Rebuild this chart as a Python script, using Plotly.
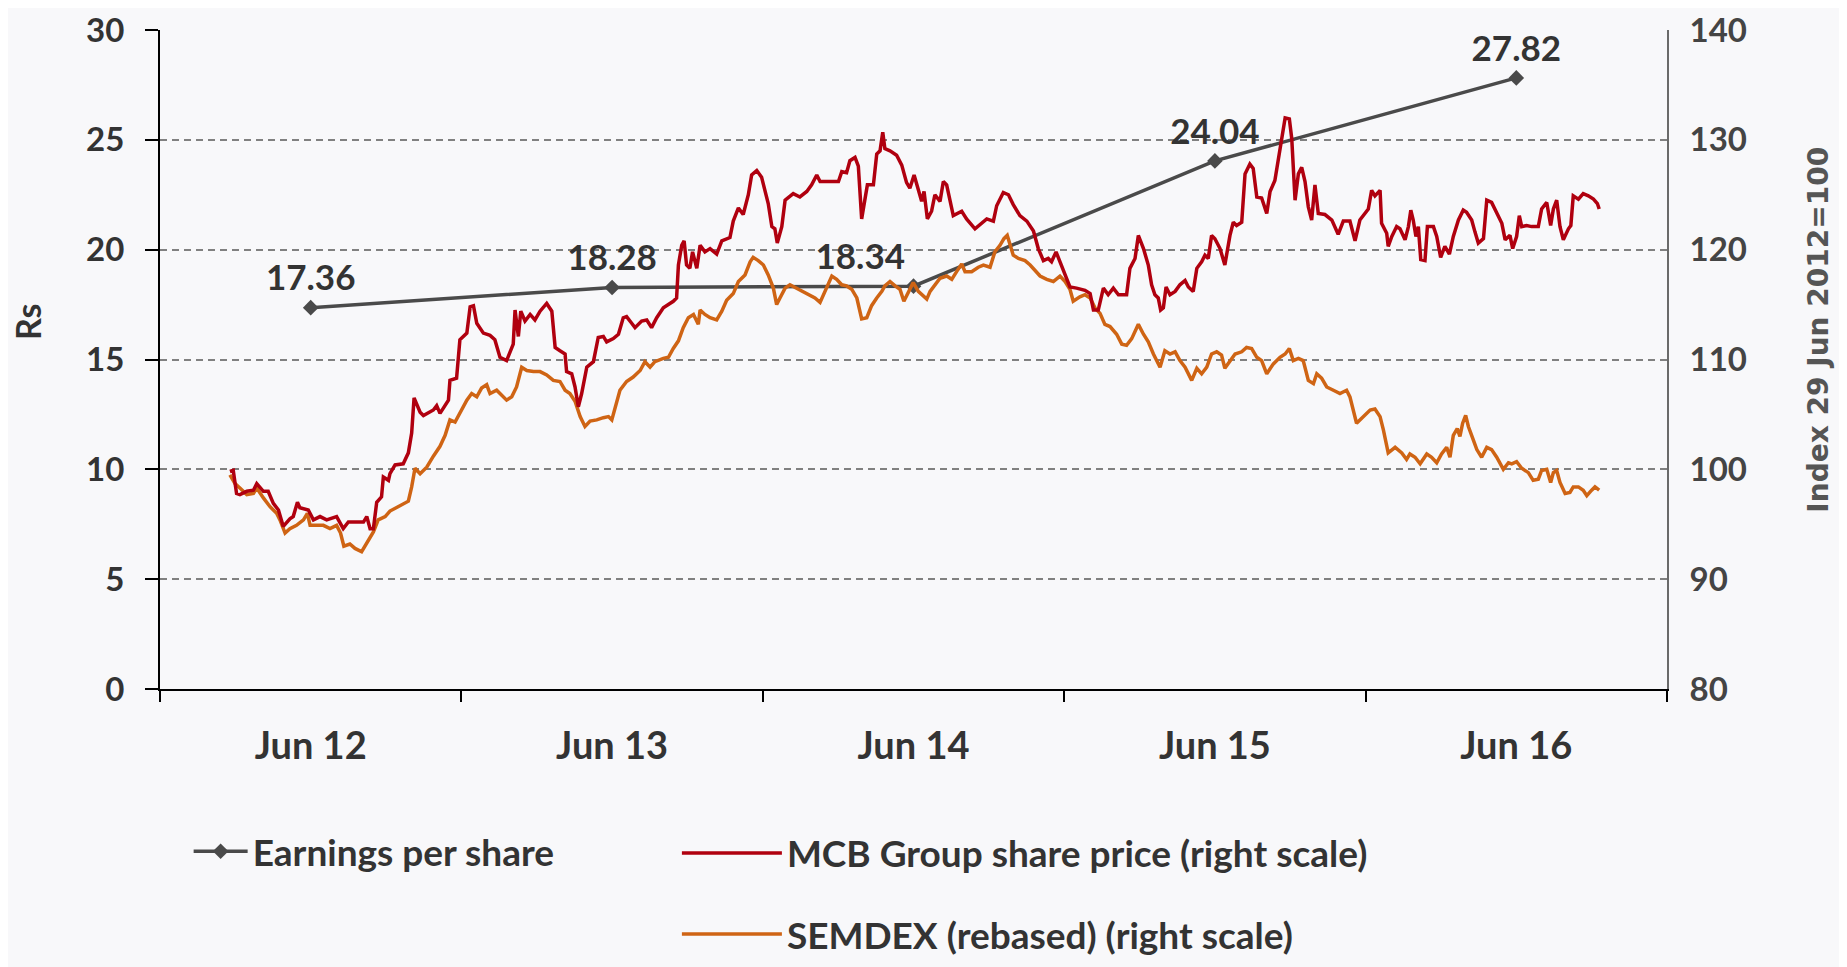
import plotly.graph_objects as go

# ---------------- data ----------------
categories = ["Jun 12", "Jun 13", "Jun 14", "Jun 15", "Jun 16"]
eps = [17.36, 18.28, 18.34, 24.04, 27.82]
eps_x = [i + 0.5 for i in range(len(categories))]  # centre of each year slot

# time position on the chart's year axis (0..5) and index level (29 Jun 2012 = 100)
mcb_t = [0.232, 0.243, 0.254, 0.265, 0.288, 0.310, 0.321, 0.343, 0.359, 0.376, 0.393, 0.409, 0.431, 0.442,
         0.456, 0.464, 0.492, 0.509, 0.531, 0.553, 0.586, 0.608, 0.625, 0.675, 0.686, 0.697, 0.708, 0.719,
         0.735, 0.741, 0.758, 0.763, 0.780, 0.807, 0.824, 0.835, 0.843, 0.863, 0.874, 0.907, 0.918, 0.929,
         0.957, 0.962, 0.984, 0.995, 1.018, 1.029, 1.040, 1.051, 1.073, 1.095, 1.111, 1.128, 1.150, 1.172,
         1.178, 1.189, 1.197, 1.211, 1.228, 1.244, 1.261, 1.283, 1.300, 1.311, 1.327, 1.344, 1.349, 1.366,
         1.377, 1.388, 1.399, 1.416, 1.438, 1.454, 1.471, 1.482, 1.504, 1.521, 1.537, 1.548, 1.565, 1.576,
         1.598, 1.615, 1.631, 1.648, 1.670, 1.687, 1.703, 1.714, 1.720, 1.731, 1.739, 1.747, 1.758, 1.767,
         1.781, 1.792, 1.808, 1.825, 1.847, 1.864, 1.891, 1.902, 1.919, 1.935, 1.952, 1.963, 1.980, 1.996,
         2.007, 2.018, 2.030, 2.040, 2.048, 2.063, 2.074, 2.101, 2.123, 2.146, 2.162, 2.179, 2.190, 2.223,
         2.251, 2.262, 2.278, 2.289, 2.306, 2.317, 2.328, 2.339, 2.347, 2.367, 2.378, 2.389, 2.398, 2.405,
         2.422, 2.444, 2.461, 2.477, 2.488, 2.502, 2.516, 2.527, 2.535, 2.546, 2.560, 2.571, 2.588, 2.599,
         2.610, 2.632, 2.660, 2.676, 2.704, 2.721, 2.743, 2.765, 2.776, 2.798, 2.815, 2.831, 2.853, 2.876,
         2.898, 2.914, 2.931, 2.947, 2.958, 2.973, 2.986, 3.003, 3.019, 3.041, 3.069, 3.086, 3.097, 3.113,
         3.130, 3.146, 3.163, 3.180, 3.207, 3.218, 3.235, 3.246, 3.263, 3.279, 3.290, 3.301, 3.312, 3.320,
         3.329, 3.338, 3.351, 3.368, 3.384, 3.401, 3.412, 3.428, 3.440, 3.456, 3.467, 3.478, 3.489, 3.500,
         3.517, 3.533, 3.550, 3.561, 3.572, 3.589, 3.600, 3.616, 3.627, 3.639, 3.655, 3.672, 3.683, 3.699,
         3.710, 3.722, 3.733, 3.747, 3.755, 3.766, 3.777, 3.788, 3.799, 3.810, 3.821, 3.832, 3.843, 3.865,
         3.888, 3.909, 3.926, 3.948, 3.965, 3.981, 3.992, 4.009, 4.020, 4.031, 4.048, 4.053, 4.070, 4.075,
         4.087, 4.103, 4.114, 4.131, 4.142, 4.150, 4.158, 4.167, 4.175, 4.183, 4.197, 4.205, 4.225, 4.236,
         4.249, 4.263, 4.278, 4.291, 4.308, 4.324, 4.335, 4.352, 4.363, 4.374, 4.391, 4.402, 4.418, 4.435,
         4.452, 4.463, 4.479, 4.488, 4.501, 4.510, 4.518, 4.534, 4.551, 4.573, 4.584, 4.601, 4.614, 4.623,
         4.634, 4.645, 4.656, 4.673, 4.681, 4.689, 4.706, 4.722, 4.739, 4.756, 4.769, 4.775]
mcb = [99.8, 99.9, 97.8, 97.7, 98.0, 98.1, 98.7, 98.0, 98.0, 96.9, 96.3, 94.8, 95.5, 95.7,
       97.0, 96.5, 96.3, 95.4, 95.7, 95.4, 95.7, 94.6, 95.2, 95.2, 95.7, 94.6, 94.6, 97.0,
       97.5, 99.3, 99.0, 99.6, 100.4, 100.5, 101.5, 103.3, 106.5, 105.2, 104.9, 105.4, 105.8, 105.1,
       106.3, 108.1, 108.3, 111.8, 112.4, 114.8, 114.9, 113.3, 112.4, 112.2, 111.8, 110.2, 109.9, 111.4,
       114.5, 112.1, 114.4, 113.5, 114.1, 113.6, 114.4, 115.1, 114.4, 111.1, 110.8, 110.5, 108.9, 108.7,
       107.5, 105.7, 106.9, 109.3, 109.8, 112.0, 112.1, 111.6, 111.9, 112.3, 113.8, 113.9, 113.3, 112.9,
       113.5, 113.6, 112.9, 113.8, 114.7, 115.0, 115.3, 115.6, 118.6, 120.4, 120.8, 118.6, 118.3, 119.8,
       118.3, 120.4, 119.8, 120.1, 119.6, 120.8, 121.1, 122.6, 123.8, 123.2, 125.0, 126.8, 127.2, 126.6,
       125.4, 124.2, 122.1, 121.9, 120.6, 122.1, 124.5, 125.1, 124.8, 125.3, 125.9, 126.8, 126.2, 126.2,
       126.2, 127.1, 127.0, 128.1, 128.4, 127.6, 122.8, 124.6, 125.9, 125.9, 128.7, 129.0, 130.7, 129.2,
       129.0, 128.6, 127.7, 126.1, 125.6, 126.8, 125.5, 124.4, 125.3, 122.8, 123.5, 125.0, 124.4, 126.2,
       125.9, 123.1, 123.5, 122.8, 121.9, 122.3, 122.8, 122.6, 124.0, 125.2, 125.0, 124.1, 123.1, 122.6,
       121.7, 120.1, 119.0, 119.2, 118.9, 119.8, 118.9, 117.6, 116.6, 116.5, 116.3, 116.0, 114.5, 114.5,
       116.5, 115.9, 116.5, 115.9, 115.9, 118.3, 119.2, 121.3, 120.1, 118.6, 116.8, 115.9, 115.6, 114.5,
       114.7, 116.6, 115.9, 116.2, 116.8, 117.2, 116.6, 116.2, 118.3, 118.9, 119.5, 119.2, 121.3, 121.0,
       120.1, 118.6, 121.3, 122.5, 122.2, 122.5, 126.9, 127.8, 127.4, 124.8, 124.7, 123.3, 125.3, 126.3,
       128.1, 129.9, 132.0, 131.9, 130.1, 124.5, 126.9, 127.5, 126.2, 123.9, 122.7, 125.9, 123.3, 123.2,
       122.7, 121.4, 122.6, 122.6, 120.8, 122.7, 123.1, 123.7, 125.4, 124.9, 125.4, 122.4, 121.5, 120.3,
       121.2, 122.1, 121.9, 120.9, 122.1, 123.6, 122.7, 121.2, 122.1, 119.1, 119.0, 122.1, 122.1, 121.2,
       119.3, 120.3, 119.6, 121.2, 122.7, 123.6, 123.4, 122.7, 121.6, 120.6, 121.0, 124.5, 124.3, 123.3,
       122.4, 120.9, 121.3, 120.1, 121.2, 123.1, 122.1, 122.2, 122.1, 122.1, 123.7, 124.3, 122.2, 123.7,
       124.5, 122.1, 120.9, 121.9, 122.2, 124.9, 124.6, 125.1, 124.9, 124.6, 124.2, 123.7]

semdex_t = [0.232, 0.249, 0.265, 0.288, 0.310, 0.321, 0.343, 0.365, 0.387, 0.398, 0.415, 0.431, 0.453, 0.476,
            0.489, 0.498, 0.520, 0.542, 0.564, 0.586, 0.599, 0.610, 0.630, 0.647, 0.669, 0.686, 0.708, 0.724,
            0.747, 0.763, 0.791, 0.824, 0.835, 0.846, 0.863, 0.885, 0.907, 0.929, 0.946, 0.962, 0.979, 0.995,
            1.018, 1.034, 1.051, 1.067, 1.084, 1.095, 1.117, 1.128, 1.150, 1.167, 1.183, 1.200, 1.217, 1.239,
            1.261, 1.283, 1.305, 1.327, 1.344, 1.360, 1.377, 1.394, 1.410, 1.427, 1.449, 1.471, 1.488, 1.499,
            1.510, 1.526, 1.548, 1.570, 1.593, 1.609, 1.626, 1.642, 1.670, 1.687, 1.703, 1.720, 1.736, 1.753,
            1.770, 1.786, 1.792, 1.808, 1.825, 1.847, 1.864, 1.880, 1.902, 1.919, 1.941, 1.958, 1.968, 1.985,
            2.002, 2.018, 2.035, 2.046, 2.057, 2.074, 2.090, 2.112, 2.134, 2.157, 2.173, 2.190, 2.206, 2.229,
            2.245, 2.262, 2.278, 2.295, 2.312, 2.328, 2.345, 2.361, 2.378, 2.395, 2.405, 2.422, 2.439, 2.455,
            2.468, 2.483, 2.499, 2.516, 2.527, 2.544, 2.555, 2.571, 2.588, 2.610, 2.627, 2.643, 2.660, 2.671,
            2.693, 2.715, 2.732, 2.754, 2.770, 2.787, 2.800, 2.811, 2.820, 2.831, 2.848, 2.870, 2.887, 2.903,
            2.920, 2.942, 2.964, 2.986, 3.003, 3.019, 3.030, 3.052, 3.069, 3.086, 3.102, 3.119, 3.135, 3.152,
            3.174, 3.191, 3.207, 3.224, 3.246, 3.263, 3.279, 3.296, 3.318, 3.334, 3.351, 3.368, 3.384, 3.401,
            3.423, 3.440, 3.456, 3.473, 3.489, 3.506, 3.522, 3.533, 3.550, 3.567, 3.589, 3.605, 3.622, 3.639,
            3.655, 3.672, 3.694, 3.716, 3.733, 3.747, 3.760, 3.777, 3.793, 3.810, 3.827, 3.838, 3.854, 3.871,
            3.893, 3.915, 3.937, 3.948, 3.970, 3.992, 4.015, 4.031, 4.048, 4.059, 4.075, 4.098, 4.120, 4.136,
            4.147, 4.164, 4.181, 4.203, 4.219, 4.236, 4.252, 4.269, 4.280, 4.291, 4.304, 4.313, 4.322, 4.332,
            4.341, 4.357, 4.369, 4.385, 4.402, 4.418, 4.435, 4.457, 4.474, 4.485, 4.501, 4.518, 4.540, 4.556,
            4.573, 4.584, 4.601, 4.614, 4.623, 4.634, 4.645, 4.662, 4.678, 4.689, 4.706, 4.722, 4.734, 4.750,
            4.761, 4.775]
semdex = [99.5, 98.7, 98.3, 97.7, 97.8, 98.3, 97.4, 96.6, 96.0, 95.4, 94.2, 94.6, 94.9, 95.4,
          96.0, 94.9, 94.9, 94.9, 94.6, 94.9, 94.2, 93.0, 93.2, 92.8, 92.5, 93.3, 94.3, 95.4,
          95.7, 96.2, 96.6, 97.1, 98.4, 100.1, 99.6, 100.2, 101.2, 102.1, 103.1, 104.5, 104.3, 105.1,
          106.3, 106.9, 106.6, 107.4, 107.7, 106.9, 107.2, 106.9, 106.3, 106.6, 107.5, 109.3, 109.0, 108.9,
          108.9, 108.6, 108.1, 108.0, 107.2, 106.9, 106.2, 104.8, 103.9, 104.4, 104.5, 104.7, 104.8, 104.5,
          105.7, 107.2, 108.0, 108.4, 109.0, 109.8, 109.3, 109.8, 110.1, 110.2, 111.0, 111.7, 112.9, 113.8,
          114.1, 113.2, 114.5, 114.1, 113.8, 113.6, 114.4, 115.4, 116.0, 117.1, 117.7, 118.9, 119.3, 119.0,
          118.6, 117.7, 116.5, 115.0, 115.6, 116.5, 116.8, 116.5, 116.2, 115.8, 115.6, 115.2, 116.2, 117.6,
          117.3, 116.8, 116.7, 116.4, 115.6, 113.7, 113.8, 114.9, 115.6, 116.2, 116.7, 117.1, 116.7, 116.4,
          115.3, 116.1, 117.0, 116.2, 115.9, 115.5, 116.2, 116.8, 117.4, 117.6, 117.3, 118.0, 118.7, 118.0,
          118.0, 118.4, 118.6, 118.4, 119.8, 120.4, 121.0, 121.3, 120.4, 119.5, 119.2, 119.0, 118.6, 118.1,
          117.6, 117.3, 117.1, 117.6, 117.1, 116.4, 115.3, 115.7, 115.9, 115.6, 114.7, 114.2, 113.2, 113.0,
          112.3, 111.4, 111.3, 111.9, 113.2, 112.3, 111.6, 110.5, 109.3, 110.8, 110.5, 110.7, 109.9, 109.3,
          108.1, 109.2, 108.7, 109.3, 110.5, 110.7, 110.4, 109.2, 109.9, 110.5, 110.7, 111.1, 111.0, 110.2,
          109.9, 108.7, 109.6, 110.2, 110.5, 111.0, 109.9, 110.1, 109.9, 108.1, 107.8, 108.7, 108.3, 107.5,
          107.2, 106.9, 107.2, 106.6, 104.2, 104.8, 105.4, 105.5, 104.8, 103.6, 101.5, 102.0, 101.5, 100.9,
          101.4, 101.1, 100.5, 101.4, 101.1, 100.6, 101.4, 102.0, 101.1, 103.1, 103.7, 103.0, 104.2, 104.9,
          103.9, 102.7, 101.8, 101.1, 102.0, 101.8, 101.1, 100.0, 100.6, 100.5, 100.7, 100.1, 99.7, 99.0,
          99.1, 99.9, 100.0, 98.8, 99.7, 99.9, 98.8, 97.8, 97.9, 98.4, 98.4, 98.1, 97.6, 98.1,
          98.4, 98.1]

left_ticks = [0, 5, 10, 15, 20, 25, 30]
right_ticks = [80, 90, 100, 110, 120, 130, 140]

# ---------------- styling ----------------
FONT = "Lato"
DARK = "#333333"
RED = "#B0000F"
ORANGE = "#CF6414"
GREY = "#4A4A4A"

fig = go.Figure()

fig.add_trace(go.Scatter(
    x=eps_x, y=eps, mode="lines+markers+text", name="Earnings per share",
    line=dict(color=GREY, width=3.5),
    marker=dict(symbol="diamond", size=12, color=GREY),
    text=[f"{v:.2f}" for v in eps],
    textposition=["top center", "top center", "top left", "top center", "top center"],
    textfont=dict(family=FONT, size=35, color=DARK, weight="bold"),
    showlegend=True, legend="legend", legendgroup="eps", cliponaxis=False,
))
fig.add_trace(go.Scatter(
    x=semdex_t, y=semdex, yaxis="y2", mode="lines", name="SEMDEX (rebased) (right scale)",
    line=dict(color=ORANGE, width=3.5), showlegend=True,
    legend="legend2", legendgroup="sem", legendrank=2,
))
fig.add_trace(go.Scatter(
    x=mcb_t, y=mcb, yaxis="y2", mode="lines", name="MCB Group share price (right scale)",
    line=dict(color=RED, width=3.5), showlegend=True,
    legend="legend2", legendgroup="mcb", legendrank=1,
))

fig.update_layout(
    width=1847, height=967,
    margin=dict(l=152, r=188, t=22, b=286, autoexpand=False),
    showlegend=True,
    paper_bgcolor="#f8f8fa",
    plot_bgcolor="rgba(0,0,0,0)",
    font=dict(family=FONT, color=DARK),
    xaxis=dict(
        range=[0, 5], tickmode="array", tickvals=eps_x, ticktext=categories,
        ticks="", showgrid=False, zeroline=False,
        showline=True, linecolor="black", linewidth=2,
        tickfont=dict(family=FONT, size=38, color=DARK, weight="bold"),
        ticklabelstandoff=22, ticklabeloverflow="allow",
        minor=dict(tickmode="array", tickvals=list(range(len(categories) + 1)),
                   ticks="outside", ticklen=11, tickwidth=2, tickcolor="black", showgrid=False),
    ),
    yaxis=dict(
        range=[0, 30], tickmode="array", tickvals=left_ticks,
        showgrid=True, gridcolor="#808080", gridwidth=2, griddash="7px,5px",
        zeroline=False, showline=True, linecolor="black", linewidth=2,
        ticks="outside", ticklen=13, tickwidth=2, tickcolor="black",
        tickfont=dict(family=FONT, size=33, color=DARK, weight="bold"),
        ticklabelstandoff=14, ticklabeloverflow="allow",
    ),
    yaxis2=dict(
        range=[80, 140], tickmode="array", tickvals=right_ticks,
        overlaying="y", side="right", showgrid=False, zeroline=False,
        showline=True, linecolor="#6a6a6a", linewidth=2, ticks="",
        tickfont=dict(family=FONT, size=33, color="#444444", weight="bold"),
        ticklabelstandoff=14, ticklabeloverflow="allow",
    ),
    annotations=[
        dict(text="Rs", xref="paper", yref="paper", x=-0.0875, y=0.557,
             xanchor="center", yanchor="middle", textangle=-90, showarrow=False,
             font=dict(family=FONT, size=34, color=DARK, weight="bold")),
        dict(text="Index 29 Jun 2012=100", xref="paper", yref="paper", x=1.1005, y=0.546,
             xanchor="center", yanchor="middle", textangle=-90, showarrow=False,
             font=dict(family="DejaVu Sans", size=28, color="#555555", weight="bold")),
    ],
    legend=dict(
        x=0.019, y=-0.247, xanchor="left", yanchor="middle", orientation="v",
        bgcolor="rgba(0,0,0,0)", itemwidth=54,
        font=dict(family=FONT, size=37, color=DARK, weight="bold"),
    ),
    legend2=dict(
        x=0.343, y=-0.311, xanchor="left", yanchor="middle", orientation="v",
        bgcolor="rgba(0,0,0,0)", itemwidth=100, tracegroupgap=30,
        font=dict(family=FONT, size=37, color=DARK, weight="bold"),
    ),
)

fig.write_html("out.html")
